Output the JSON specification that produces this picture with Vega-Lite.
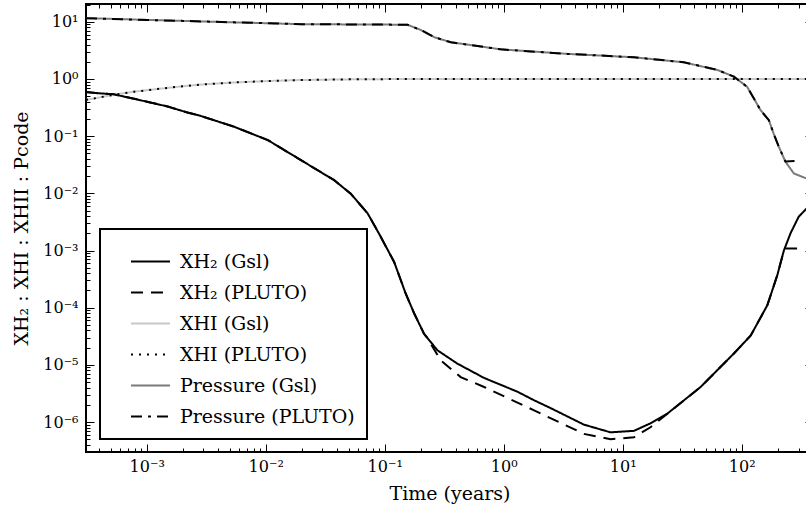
{
  "$schema": "https://vega.github.io/schema/vega-lite/v6.json",
  "width": 727,
  "height": 448,
  "autosize": {"type": "none"},
  "padding": {"left": 86, "top": 4, "right": -7, "bottom": 61},
  "background": "white",
  "config": {
    "font": "DejaVu Serif",
    "view": {"stroke": "black", "strokeWidth": 2},
    "axis": {"domain": false, "grid": false, "tickColor": "black", "tickWidth": 1, "labelColor": "black", "titleColor": "black", "labelFont": "DejaVu Serif", "titleFont": "DejaVu Serif", "labelFontSize": 16, "titleFontSize": 19, "titleFontWeight": "normal", "labelOverlap": false, "labelFlush": false, "labelBound": false},
    "legend": {"strokeWidth": 2}
  },
  "data": {"values": [
    {"s": "XH₂ (Gsl)", "t": 0.000309, "v": 0.59},
    {"s": "XH₂ (Gsl)", "t": 0.00041, "v": 0.56},
    {"s": "XH₂ (Gsl)", "t": 0.000528, "v": 0.54},
    {"s": "XH₂ (Gsl)", "t": 0.000787, "v": 0.45},
    {"s": "XH₂ (Gsl)", "t": 0.0015, "v": 0.33},
    {"s": "XH₂ (Gsl)", "t": 0.00219, "v": 0.26},
    {"s": "XH₂ (Gsl)", "t": 0.00286, "v": 0.225},
    {"s": "XH₂ (Gsl)", "t": 0.00544, "v": 0.146},
    {"s": "XH₂ (Gsl)", "t": 0.0104, "v": 0.0856},
    {"s": "XH₂ (Gsl)", "t": 0.0198, "v": 0.038},
    {"s": "XH₂ (Gsl)", "t": 0.0376, "v": 0.017},
    {"s": "XH₂ (Gsl)", "t": 0.0519, "v": 0.0098},
    {"s": "XH₂ (Gsl)", "t": 0.0717, "v": 0.0045},
    {"s": "XH₂ (Gsl)", "t": 0.0927, "v": 0.00173},
    {"s": "XH₂ (Gsl)", "t": 0.12, "v": 0.00063},
    {"s": "XH₂ (Gsl)", "t": 0.15, "v": 0.000177},
    {"s": "XH₂ (Gsl)", "t": 0.177, "v": 0.000079},
    {"s": "XH₂ (Gsl)", "t": 0.214, "v": 0.000035},
    {"s": "XH₂ (Gsl)", "t": 0.277, "v": 0.000018},
    {"s": "XH₂ (Gsl)", "t": 0.408, "v": 0.0000105},
    {"s": "XH₂ (Gsl)", "t": 0.684, "v": 0.0000059},
    {"s": "XH₂ (Gsl)", "t": 1.3, "v": 0.0000034},
    {"s": "XH₂ (Gsl)", "t": 1.8, "v": 0.0000024},
    {"s": "XH₂ (Gsl)", "t": 2.48, "v": 0.00000175},
    {"s": "XH₂ (Gsl)", "t": 4.72, "v": 0.0000009},
    {"s": "XH₂ (Gsl)", "t": 7.91, "v": 0.00000066},
    {"s": "XH₂ (Gsl)", "t": 12.4, "v": 0.0000007},
    {"s": "XH₂ (Gsl)", "t": 17.1, "v": 0.00000095},
    {"s": "XH₂ (Gsl)", "t": 23.7, "v": 0.0000014},
    {"s": "XH₂ (Gsl)", "t": 45.1, "v": 0.0000041},
    {"s": "XH₂ (Gsl)", "t": 85.9, "v": 0.0000158},
    {"s": "XH₂ (Gsl)", "t": 119, "v": 0.0000326},
    {"s": "XH₂ (Gsl)", "t": 164, "v": 0.00011},
    {"s": "XH₂ (Gsl)", "t": 199, "v": 0.00037},
    {"s": "XH₂ (Gsl)", "t": 226, "v": 0.001},
    {"s": "XH₂ (Gsl)", "t": 257, "v": 0.002},
    {"s": "XH₂ (Gsl)", "t": 301, "v": 0.0039},
    {"s": "XH₂ (Gsl)", "t": 350, "v": 0.0054},
    {"s": "XH₂ (Gsl)", "t": 397, "v": 0.0064},

    {"s": "XHI (Gsl)", "t": 0.000309, "v": 0.43},
    {"s": "XHI (Gsl)", "t": 0.00041, "v": 0.48},
    {"s": "XHI (Gsl)", "t": 0.000528, "v": 0.53},
    {"s": "XHI (Gsl)", "t": 0.000787, "v": 0.6},
    {"s": "XHI (Gsl)", "t": 0.0015, "v": 0.7},
    {"s": "XHI (Gsl)", "t": 0.00219, "v": 0.76},
    {"s": "XHI (Gsl)", "t": 0.00286, "v": 0.8},
    {"s": "XHI (Gsl)", "t": 0.00544, "v": 0.87},
    {"s": "XHI (Gsl)", "t": 0.0104, "v": 0.92},
    {"s": "XHI (Gsl)", "t": 0.0198, "v": 0.96},
    {"s": "XHI (Gsl)", "t": 0.05, "v": 0.985},
    {"s": "XHI (Gsl)", "t": 0.1, "v": 0.995},
    {"s": "XHI (Gsl)", "t": 1, "v": 1.0},
    {"s": "XHI (Gsl)", "t": 397, "v": 1.0},

    {"s": "Pressure (Gsl)", "t": 0.000309, "v": 11.6},
    {"s": "Pressure (Gsl)", "t": 0.001, "v": 10.8},
    {"s": "Pressure (Gsl)", "t": 0.0032, "v": 10.1},
    {"s": "Pressure (Gsl)", "t": 0.0198, "v": 9.1},
    {"s": "Pressure (Gsl)", "t": 0.155, "v": 8.9},
    {"s": "Pressure (Gsl)", "t": 0.201, "v": 7.2},
    {"s": "Pressure (Gsl)", "t": 0.26, "v": 5.4},
    {"s": "Pressure (Gsl)", "t": 0.359, "v": 4.4},
    {"s": "Pressure (Gsl)", "t": 0.944, "v": 3.3},
    {"s": "Pressure (Gsl)", "t": 3.43, "v": 2.75},
    {"s": "Pressure (Gsl)", "t": 12.4, "v": 2.4},
    {"s": "Pressure (Gsl)", "t": 32.6, "v": 1.96},
    {"s": "Pressure (Gsl)", "t": 62.3, "v": 1.44},
    {"s": "Pressure (Gsl)", "t": 85.9, "v": 1.1},
    {"s": "Pressure (Gsl)", "t": 111, "v": 0.73},
    {"s": "Pressure (Gsl)", "t": 144, "v": 0.285},
    {"s": "Pressure (Gsl)", "t": 169, "v": 0.19},
    {"s": "Pressure (Gsl)", "t": 185, "v": 0.112},
    {"s": "Pressure (Gsl)", "t": 205, "v": 0.065},
    {"s": "Pressure (Gsl)", "t": 233, "v": 0.0357},
    {"s": "Pressure (Gsl)", "t": 274, "v": 0.0223},
    {"s": "Pressure (Gsl)", "t": 350, "v": 0.0182},
    {"s": "Pressure (Gsl)", "t": 397, "v": 0.0175},

    {"s": "XH₂ (PLUTO)", "t": 0.000309, "v": 0.59},
    {"s": "XH₂ (PLUTO)", "t": 0.00041, "v": 0.56},
    {"s": "XH₂ (PLUTO)", "t": 0.000528, "v": 0.54},
    {"s": "XH₂ (PLUTO)", "t": 0.000787, "v": 0.45},
    {"s": "XH₂ (PLUTO)", "t": 0.0015, "v": 0.33},
    {"s": "XH₂ (PLUTO)", "t": 0.00219, "v": 0.26},
    {"s": "XH₂ (PLUTO)", "t": 0.00286, "v": 0.225},
    {"s": "XH₂ (PLUTO)", "t": 0.00544, "v": 0.146},
    {"s": "XH₂ (PLUTO)", "t": 0.0104, "v": 0.0856},
    {"s": "XH₂ (PLUTO)", "t": 0.0198, "v": 0.038},
    {"s": "XH₂ (PLUTO)", "t": 0.0376, "v": 0.017},
    {"s": "XH₂ (PLUTO)", "t": 0.0519, "v": 0.0098},
    {"s": "XH₂ (PLUTO)", "t": 0.0717, "v": 0.0045},
    {"s": "XH₂ (PLUTO)", "t": 0.0927, "v": 0.00173},
    {"s": "XH₂ (PLUTO)", "t": 0.12, "v": 0.00063},
    {"s": "XH₂ (PLUTO)", "t": 0.15, "v": 0.000177},
    {"s": "XH₂ (PLUTO)", "t": 0.177, "v": 0.000079},
    {"s": "XH₂ (PLUTO)", "t": 0.214, "v": 0.000035},
    {"s": "XH₂ (PLUTO)", "t": 0.229, "v": 0.000029},
    {"s": "XH₂ (PLUTO)", "t": 0.296, "v": 0.000012},
    {"s": "XH₂ (PLUTO)", "t": 0.435, "v": 0.0000061},
    {"s": "XH₂ (PLUTO)", "t": 0.684, "v": 0.0000041},
    {"s": "XH₂ (PLUTO)", "t": 1.8, "v": 0.0000016},
    {"s": "XH₂ (PLUTO)", "t": 4.72, "v": 0.00000062},
    {"s": "XH₂ (PLUTO)", "t": 7.91, "v": 0.0000005},
    {"s": "XH₂ (PLUTO)", "t": 12.4, "v": 0.00000054},
    {"s": "XH₂ (PLUTO)", "t": 17.1, "v": 0.00000081},
    {"s": "XH₂ (PLUTO)", "t": 23.7, "v": 0.0000014},
    {"s": "XH₂ (PLUTO)", "t": 45.1, "v": 0.0000041},
    {"s": "XH₂ (PLUTO)", "t": 85.9, "v": 0.0000158},
    {"s": "XH₂ (PLUTO)", "t": 119, "v": 0.0000326},
    {"s": "XH₂ (PLUTO)", "t": 164, "v": 0.00011},
    {"s": "XH₂ (PLUTO)", "t": 199, "v": 0.00037},
    {"s": "XH₂ (PLUTO)", "t": 226, "v": 0.001},
    {"s": "XH₂ (PLUTO)", "t": 233, "v": 0.00108},
    {"s": "XH₂ (PLUTO)", "t": 300, "v": 0.00108},

    {"s": "XHI (PLUTO)", "t": 0.000309, "v": 0.43},
    {"s": "XHI (PLUTO)", "t": 0.00041, "v": 0.48},
    {"s": "XHI (PLUTO)", "t": 0.000528, "v": 0.53},
    {"s": "XHI (PLUTO)", "t": 0.000787, "v": 0.6},
    {"s": "XHI (PLUTO)", "t": 0.0015, "v": 0.7},
    {"s": "XHI (PLUTO)", "t": 0.00219, "v": 0.76},
    {"s": "XHI (PLUTO)", "t": 0.00286, "v": 0.8},
    {"s": "XHI (PLUTO)", "t": 0.00544, "v": 0.87},
    {"s": "XHI (PLUTO)", "t": 0.0104, "v": 0.92},
    {"s": "XHI (PLUTO)", "t": 0.0198, "v": 0.96},
    {"s": "XHI (PLUTO)", "t": 0.05, "v": 0.985},
    {"s": "XHI (PLUTO)", "t": 0.1, "v": 0.995},
    {"s": "XHI (PLUTO)", "t": 1, "v": 1.0},
    {"s": "XHI (PLUTO)", "t": 397, "v": 1.0},

    {"s": "Pressure (PLUTO)", "t": 0.000309, "v": 11.6},
    {"s": "Pressure (PLUTO)", "t": 0.001, "v": 10.8},
    {"s": "Pressure (PLUTO)", "t": 0.0032, "v": 10.1},
    {"s": "Pressure (PLUTO)", "t": 0.0198, "v": 9.1},
    {"s": "Pressure (PLUTO)", "t": 0.155, "v": 8.9},
    {"s": "Pressure (PLUTO)", "t": 0.201, "v": 7.2},
    {"s": "Pressure (PLUTO)", "t": 0.26, "v": 5.4},
    {"s": "Pressure (PLUTO)", "t": 0.359, "v": 4.4},
    {"s": "Pressure (PLUTO)", "t": 0.944, "v": 3.3},
    {"s": "Pressure (PLUTO)", "t": 3.43, "v": 2.75},
    {"s": "Pressure (PLUTO)", "t": 12.4, "v": 2.4},
    {"s": "Pressure (PLUTO)", "t": 32.6, "v": 1.96},
    {"s": "Pressure (PLUTO)", "t": 62.3, "v": 1.44},
    {"s": "Pressure (PLUTO)", "t": 85.9, "v": 1.1},
    {"s": "Pressure (PLUTO)", "t": 111, "v": 0.73},
    {"s": "Pressure (PLUTO)", "t": 144, "v": 0.285},
    {"s": "Pressure (PLUTO)", "t": 169, "v": 0.19},
    {"s": "Pressure (PLUTO)", "t": 185, "v": 0.112},
    {"s": "Pressure (PLUTO)", "t": 205, "v": 0.065},
    {"s": "Pressure (PLUTO)", "t": 233, "v": 0.036},
    {"s": "Pressure (PLUTO)", "t": 300, "v": 0.037}
  ]},
  "layer": [
    {
      "mark": {"type": "line", "strokeWidth": 2, "clip": true, "strokeCap": "butt"},
      "encoding": {
        "x": {"field": "t", "type": "quantitative",
          "scale": {"type": "log", "domain": [0.000309, 397], "nice": false},
          "axis": {"orient": "bottom", "title": "Time (years)", "titlePadding": 6, "labelPadding": 14,
            "values": [0.0004,0.0005,0.0006,0.0007,0.0008,0.0009,0.001,0.002,0.003,0.004,0.005,0.006,0.007,0.008,0.009,0.01,0.02,0.03,0.04,0.05,0.06,0.07,0.08,0.09,0.1,0.2,0.3,0.4,0.5,0.6,0.7,0.8,0.9,1,2,3,4,5,6,7,8,9,10,20,30,40,50,60,70,80,90,100,200,300],
            "tickSize": {"condition": {"test": "abs(log(datum.value)/LN10-round(log(datum.value)/LN10))<0.001", "value": -8}, "value": -4},
            "labelExpr": "abs(log(datum.value)/LN10-round(log(datum.value)/LN10))<0.001 ? '10' + ['⁻⁷','⁻⁶','⁻⁵','⁻⁴','⁻³','⁻²','⁻¹','⁰','¹','²'][round(log(datum.value)/LN10)+7] : ''"}},
        "y": {"field": "v", "type": "quantitative",
          "scale": {"type": "log", "domain": [2.99e-7, 20.5], "nice": false},
          "axis": {"orient": "left", "title": "XH₂ : XHI : XHII : Pcode", "titlePadding": 11, "labelPadding": 16,
            "values": [3e-7,4e-7,5e-7,6e-7,7e-7,8e-7,9e-7,1e-6,2e-6,3e-6,4e-6,5e-6,6e-6,7e-6,8e-6,9e-6,1e-5,2e-5,3e-5,4e-5,5e-5,6e-5,7e-5,8e-5,9e-5,1e-4,2e-4,3e-4,4e-4,5e-4,6e-4,7e-4,8e-4,9e-4,0.001,0.002,0.003,0.004,0.005,0.006,0.007,0.008,0.009,0.01,0.02,0.03,0.04,0.05,0.06,0.07,0.08,0.09,0.1,0.2,0.3,0.4,0.5,0.6,0.7,0.8,0.9,1,2,3,4,5,6,7,8,9,10,20],
            "tickSize": {"condition": {"test": "abs(log(datum.value)/LN10-round(log(datum.value)/LN10))<0.001", "value": -8}, "value": -4},
            "labelExpr": "abs(log(datum.value)/LN10-round(log(datum.value)/LN10))<0.001 ? '10' + ['⁻⁷','⁻⁶','⁻⁵','⁻⁴','⁻³','⁻²','⁻¹','⁰','¹','²'][round(log(datum.value)/LN10)+7] : ''"}},
        "color": {"field": "s", "type": "nominal",
          "scale": {"domain": ["XH₂ (Gsl)", "XH₂ (PLUTO)", "XHI (Gsl)", "XHI (PLUTO)", "Pressure (Gsl)", "Pressure (PLUTO)"],
                    "range": ["#000000", "#000000", "#c8c8c8", "#000000", "#7a7a7a", "#000000"]},
          "legend": {"title": null, "orient": "none", "legendX": 14, "legendY": 225, "fillColor": "white", "strokeColor": "black", "padding": 12, "symbolType": "stroke", "symbolSize": 1521, "symbolStrokeWidth": 2, "labelFont": "DejaVu Serif", "labelFontSize": 19, "labelColor": "black", "rowPadding": 0, "symbolOffset": 18, "labelOffset": 9, "labelLimit": 400}},
        "strokeDash": {"field": "s", "type": "nominal",
          "scale": {"domain": ["XH₂ (Gsl)", "XH₂ (PLUTO)", "XHI (Gsl)", "XHI (PLUTO)", "Pressure (Gsl)", "Pressure (PLUTO)"],
                    "range": [[1, 0], [12, 8], [1, 0], [2, 6], [1, 0], [11, 6, 3, 6]]},
          "legend": {"title": null, "orient": "none", "legendX": 14, "legendY": 225, "fillColor": "white", "strokeColor": "black", "padding": 12, "symbolType": "stroke", "symbolSize": 1521, "symbolStrokeWidth": 2, "labelFont": "DejaVu Serif", "labelFontSize": 19, "labelColor": "black", "rowPadding": 0, "symbolOffset": 18, "labelOffset": 9, "labelLimit": 400}}
      }
    },
    {
      "mark": {"type": "line", "strokeOpacity": 0, "clip": true},
      "encoding": {
        "x": {"field": "t", "type": "quantitative",
          "axis": {"orient": "top", "title": null, "labels": false,
            "values": [0.0004,0.0005,0.0006,0.0007,0.0008,0.0009,0.001,0.002,0.003,0.004,0.005,0.006,0.007,0.008,0.009,0.01,0.02,0.03,0.04,0.05,0.06,0.07,0.08,0.09,0.1,0.2,0.3,0.4,0.5,0.6,0.7,0.8,0.9,1,2,3,4,5,6,7,8,9,10,20,30,40,50,60,70,80,90,100,200,300],
            "tickSize": {"condition": {"test": "abs(log(datum.value)/LN10-round(log(datum.value)/LN10))<0.001", "value": -8}, "value": -4}}},
        "y": {"field": "v", "type": "quantitative",
          "axis": {"orient": "right", "title": null, "labels": false,
            "values": [3e-7,4e-7,5e-7,6e-7,7e-7,8e-7,9e-7,1e-6,2e-6,3e-6,4e-6,5e-6,6e-6,7e-6,8e-6,9e-6,1e-5,2e-5,3e-5,4e-5,5e-5,6e-5,7e-5,8e-5,9e-5,1e-4,2e-4,3e-4,4e-4,5e-4,6e-4,7e-4,8e-4,9e-4,0.001,0.002,0.003,0.004,0.005,0.006,0.007,0.008,0.009,0.01,0.02,0.03,0.04,0.05,0.06,0.07,0.08,0.09,0.1,0.2,0.3,0.4,0.5,0.6,0.7,0.8,0.9,1,2,3,4,5,6,7,8,9,10,20],
            "tickSize": {"condition": {"test": "abs(log(datum.value)/LN10-round(log(datum.value)/LN10))<0.001", "value": -8}, "value": -4}}}
      }
    }
  ],
  "resolve": {"axis": {"x": "independent", "y": "independent"}}
}
